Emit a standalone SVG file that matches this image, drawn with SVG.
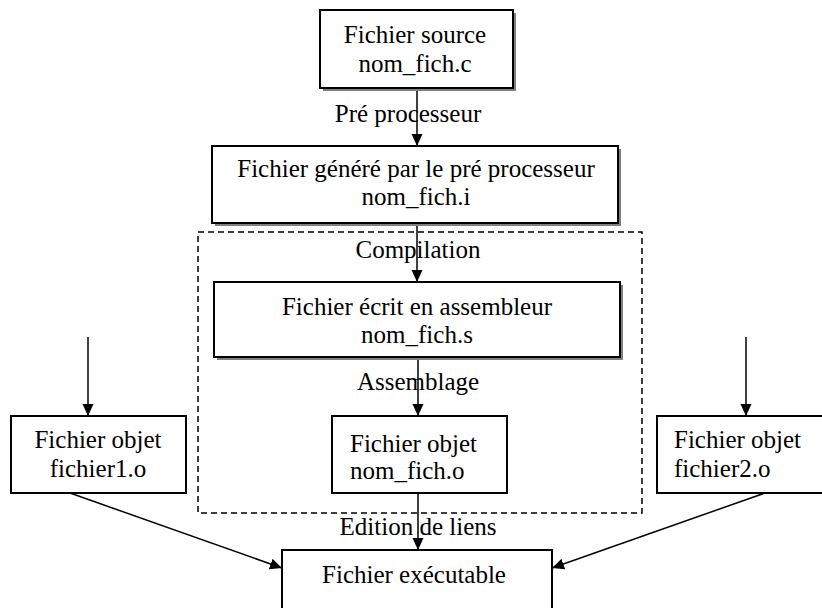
<svg xmlns="http://www.w3.org/2000/svg" width="822" height="608" viewBox="0 0 822 608">
<defs>
<marker id="ah" viewBox="0 0 12 12" refX="12" refY="6" markerWidth="12" markerHeight="12" markerUnits="userSpaceOnUse" orient="auto">
<path d="M0,0.5 L12,6 L0,11.5 z" fill="#000"/>
</marker>
</defs>
<style>
.ln{stroke:#000;stroke-width:1.5;fill:none;marker-end:url(#ah)}
.box{fill:#fff;stroke:#000;stroke-width:2}
.sh{fill:#808080}
.dash{fill:none;stroke:#000;stroke-width:1.5;stroke-dasharray:6,4}
</style>
<rect width="822" height="608" fill="#fff"/>
<g font-family="'Liberation Serif', 'Times New Roman', Times, serif" font-size="25" fill="#000">
<rect class="dash" x="198" y="232" width="444" height="281"/>
<g id="connectors">
<line class="ln" x1="417" y1="88" x2="417" y2="146"/>
<line class="ln" x1="417" y1="223" x2="417" y2="282"/>
<line class="ln" x1="418" y1="357" x2="418" y2="416"/>
<line class="ln" x1="418" y1="493" x2="418" y2="550"/>
<line class="ln" x1="88" y1="337" x2="88" y2="416"/>
<line class="ln" x1="746" y1="337" x2="746" y2="416"/>
<line class="ln" x1="70" y1="493" x2="282" y2="568"/>
<line class="ln" x1="765" y1="493" x2="552" y2="568"/>
<text text-anchor="middle" x="408" y="122">Pré processeur</text>
<text text-anchor="middle" x="418" y="258">Compilation</text>
<text text-anchor="middle" x="418" y="390">Assemblage</text>
<text text-anchor="middle" x="418" y="535">Edition de liens</text>
</g>
<g id="source">
<rect class="sh" x="323" y="13" width="193" height="78"/>
<rect class="box" x="320" y="10" width="193" height="78"/>
<text text-anchor="middle" x="415" y="43">Fichier source</text>
<text text-anchor="middle" x="415" y="72">nom_fich.c</text>
</g>
<g id="preproc">
<rect class="sh" x="215" y="149" width="406" height="77"/>
<rect class="box" x="212" y="146" width="406" height="77"/>
<text text-anchor="middle" x="416" y="177">Fichier généré par le pré processeur</text>
<text text-anchor="middle" x="416" y="205">nom_fich.i</text>
</g>
<g id="asm">
<rect class="sh" x="217" y="285" width="406" height="75"/>
<rect class="box" x="214" y="282" width="406" height="75"/>
<text text-anchor="middle" x="417" y="315">Fichier écrit en assembleur</text>
<text text-anchor="middle" x="417" y="343">nom_fich.s</text>
</g>
<g id="obj">
<rect class="box" x="332" y="416" width="175" height="77"/>
<text x="350" y="452">Fichier objet</text>
<text x="350" y="479">nom_fich.o</text>
</g>
<g id="obj1">
<rect class="box" x="11" y="416" width="175" height="77"/>
<text text-anchor="middle" x="98" y="448">Fichier objet</text>
<text text-anchor="middle" x="98" y="477">fichier1.o</text>
</g>
<g id="obj2">
<rect class="box" x="657" y="416" width="175" height="77"/>
<text x="674" y="448">Fichier objet</text>
<text x="674" y="477">fichier2.o</text>
</g>
<g id="exe">
<rect class="box" x="282" y="550" width="270" height="70"/>
<text text-anchor="middle" x="414" y="583">Fichier exécutable</text>
</g>
</g>
</svg>
